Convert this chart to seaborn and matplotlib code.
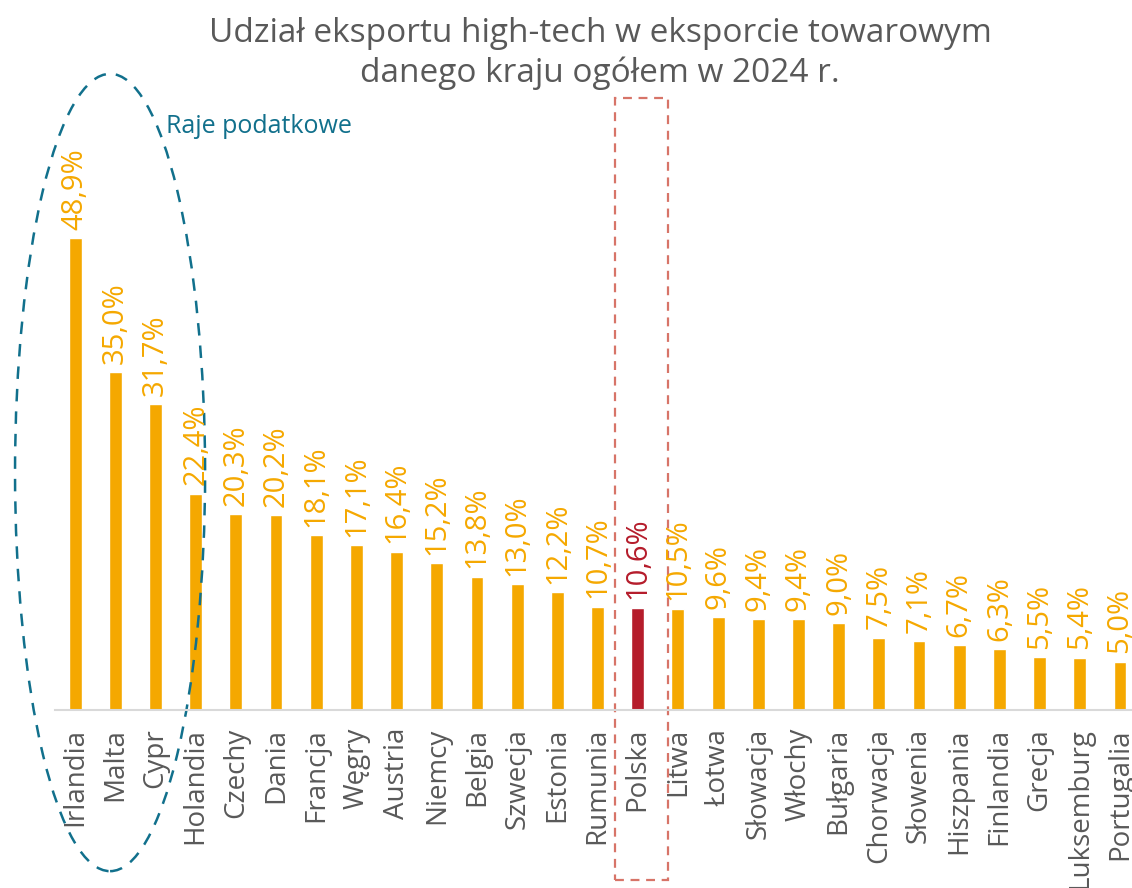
import pandas as pd
import seaborn as sns
import matplotlib.pyplot as plt
from matplotlib.patches import Ellipse, Rectangle

countries = ["Irlandia", "Malta", "Cypr", "Holandia", "Czechy", "Dania", "Francja",
             "Węgry", "Austria", "Niemcy", "Belgia", "Szwecja", "Estonia", "Rumunia",
             "Polska", "Litwa", "Łotwa", "Słowacja", "Włochy", "Bułgaria", "Chorwacja",
             "Słowenia", "Hiszpania", "Finlandia", "Grecja", "Luksemburg", "Portugalia"]
values = [48.9, 35.0, 31.7, 22.4, 20.3, 20.2, 18.1, 17.1, 16.4, 15.2, 13.8, 13.0,
          12.2, 10.7, 10.6, 10.5, 9.6, 9.4, 9.4, 9.0, 7.5, 7.1, 6.7, 6.3, 5.5, 5.4, 5.0]
highlight = "Polska"

ORANGE = "#F5A800"
RED = "#B51C2B"
GREY = "#595959"
TEAL = "#11708C"

df = pd.DataFrame({"kraj": countries, "udzial": values})
colors = [RED if c == highlight else ORANGE for c in countries]

sns.set_style("white")
plt.rcParams["font.family"] = ["Open Sans", "DejaVu Sans"]

fig = plt.figure(figsize=(11.32, 8.88), dpi=100)
ax = fig.add_axes([0.0486, 0.2005, 0.9514, 0.687])
sns.barplot(data=df, x="kraj", y="udzial", hue="kraj", palette=colors,
            width=0.32, legend=False, ax=ax, saturation=1)

for i, (c, v) in enumerate(zip(countries, values)):
    ax.annotate(f"{v:.1f}%".replace(".", ","), (i, v), xytext=(0, 6),
                textcoords="offset points", rotation=90, ha="center", va="bottom",
                fontsize=21, color=RED if c == highlight else ORANGE)

ax.set_xlim(-0.5, 26.3)
ax.set_ylim(0, 63.2)
ax.set_xlabel("")
ax.set_ylabel("")
ax.set_yticks([])
ax.tick_params(axis="x", length=0, pad=13, labelsize=20, labelcolor=GREY)
plt.setp(ax.get_xticklabels(), rotation=90)
sns.despine(ax=ax, left=True)
ax.spines["bottom"].set_color("#D9D9D9")
ax.spines["bottom"].set_linewidth(1.5)

# ellipse around tax havens
ax.add_patch(Ellipse((0.87, 24.6), 4.73, 82.6, fill=False, edgecolor=TEAL,
                     linestyle=(0, (5, 4)), linewidth=1.8, clip_on=False))
ax.text(2.25, 60.4, "Raje podatkowe", color=TEAL, fontsize=18, va="center")

# dashed box around Poland
ax.add_patch(Rectangle((13.43, -17.6), 1.32, 81.0, fill=False, edgecolor="#D77468",
                       linestyle=(0, (4, 3)), linewidth=1.6, clip_on=False))

fig.text(0.53, 0.94, "Udział eksportu high-tech w eksporcie towarowym\ndanego kraju ogółem w 2024 r.",
         ha="center", va="center", fontsize=24, color=GREY, linespacing=1.25)

fig.savefig("out.png", dpi=100)
